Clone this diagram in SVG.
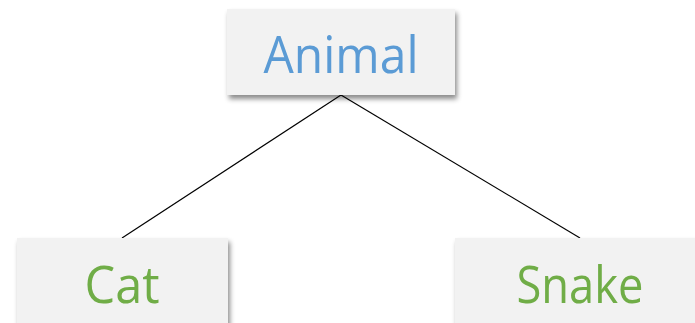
<svg xmlns="http://www.w3.org/2000/svg" width="695" height="323" viewBox="0 0 695 323">
  <style>
    .box { fill: #f2f2f2; filter: url(#shadow); }
    .label { font-family: "Open Sans", "Noto Sans", "Liberation Sans", sans-serif; font-size: 52px; text-anchor: middle; }
    .parent { fill: #5b9bd5; }
    .child { fill: #70ad47; }
    .edge { stroke: #000; stroke-width: 1.2; fill: none; }
  </style>
  <defs>
    <filter id="shadow" x="-10%" y="-20%" width="130%" height="150%">
      <feDropShadow dx="2" dy="4" stdDeviation="2.5" flood-color="#000" flood-opacity="0.45"/>
    </filter>
  </defs>
  <rect width="695" height="323" fill="#fff"/>
  <g id="connectors">
    <line class="edge" x1="341" y1="95" x2="122" y2="238"/>
    <line class="edge" x1="341" y1="95" x2="580" y2="238"/>
  </g>
  <g id="animal">
    <rect class="box" x="227" y="9" width="228" height="86"/>
    <text class="label parent" x="341" y="73" textLength="155" lengthAdjust="spacingAndGlyphs">Animal</text>
  </g>
  <g id="cat">
    <rect class="box" x="17" y="238" width="211" height="100"/>
    <text class="label child" x="122" y="303" textLength="75" lengthAdjust="spacingAndGlyphs">Cat</text>
  </g>
  <g id="snake">
    <rect class="box" x="455" y="238" width="260" height="100"/>
    <text class="label child" x="580" y="303" textLength="127" lengthAdjust="spacingAndGlyphs">Snake</text>
  </g>
</svg>
